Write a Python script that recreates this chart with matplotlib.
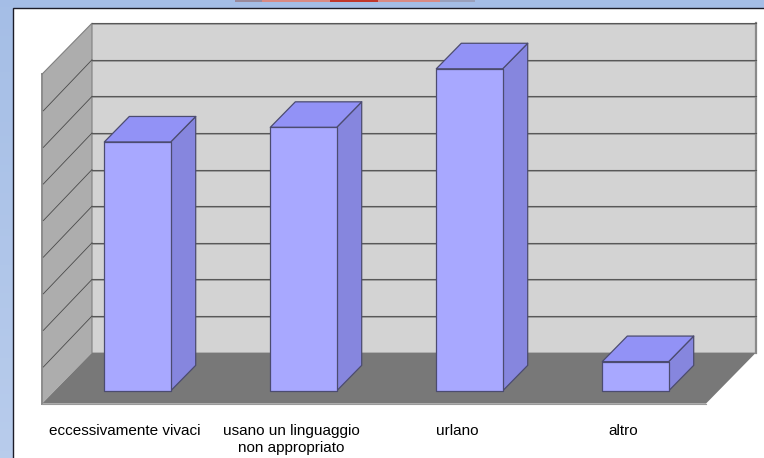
import numpy as np
import matplotlib
matplotlib.use("Agg")
import matplotlib.pyplot as plt
from matplotlib.patches import Polygon, Rectangle

plt.rcParams['font.family'] = ['Liberation Sans', 'DejaVu Sans']

# Valori
categorie = ["eccessivamente vivaci", "usano un linguaggio\nnon appropriato", "urlano", "altro"]
valori = [6.8, 7.2, 8.8, 0.8]
griglia = list(range(10))

# profondita' della vista 3D, in unita' dei dati
DX = 50 / 166
DY = 51 / 36.6
LARG = 0.4

fig = plt.figure(figsize=(7.64, 4.58), dpi=100)

# sfondo e cornice della diapositiva, in pixel
bg = fig.add_axes([0, 0, 1, 1])
bg.set_xlim(0, 764)
bg.set_ylim(458, 0)
bg.axis('off')
grad = np.linspace(0, 1, 64).reshape(-1, 1, 1)
col = (1 - grad) * np.array([[[0.647, 0.745, 0.902]]]) + grad * np.array([[[0.722, 0.800, 0.925]]])
bg.imshow(col, extent=(0, 764, 458, 0), aspect='auto', zorder=0)
bg.add_patch(Rectangle((12.5, 7.5), 800, 500, fc='white', ec='#1c1c28', lw=1.0, zorder=1))
for x0, x1, c in [(235, 262, '#9a8a9c'), (262, 330, '#d98a84'), (330, 378, '#c0362c'), (378, 440, '#d98a84'), (440, 475, '#9aa0bc')]:
    bg.add_patch(Rectangle((x0, 0), x1 - x0, 1.8, fc=c, ec='none', zorder=1))

# assi sul piano frontale del grafico
ax = fig.add_axes([42 / 764, 1 - 403.6 / 458, 664 / 764, 329.4 / 458])
ax.set_xlim(0, 4)
ax.set_ylim(0, 9)
ax.axis('off')

def poly(pts, fc, ec='none', lw=0, z=2):
    ax.add_patch(Polygon(pts, closed=True, fc=fc, ec=ec, lw=lw, zorder=z, clip_on=False, joinstyle='round'))

ymax = griglia[-1]
# pareti e pavimento
poly([(DX, DY), (4 + DX, DY), (4 + DX, ymax + DY), (DX, ymax + DY)], '#d3d3d3')
poly([(0, 0), (DX, DY), (DX, ymax + DY), (0, ymax)], '#adadad')
poly([(0, 0), (4, 0), (4 + DX, DY), (DX, DY)], '#787878')
ax.plot([0, 0], [0, ymax], color='#8c8c8c', lw=1.4, zorder=3, clip_on=False)
ax.plot([4 + DX, 4 + DX], [DY, ymax + DY], color='#8a8a8a', lw=1.6, zorder=3, clip_on=False)
ax.plot([0, 4], [0, 0], color='#9a9a9a', lw=0.8, zorder=3, clip_on=False)
ax.plot([0, DX, DX], [ymax, ymax + DY, DY], color='#808080', lw=0.8, zorder=3, clip_on=False)

# griglia
for g in griglia[1:]:
    ax.plot([DX, 4 + DX], [g + DY, g + DY], color='#585858', lw=0.8, zorder=3, clip_on=False)
    ax.plot([DX, 4 + DX], [g + DY - 0.03, g + DY - 0.03], color='#a0a0a0', lw=0.7, zorder=2.9, clip_on=False)
    if g < ymax:
        ax.plot([0.008, DX], [g, g + DY], color='#4a4a4a', lw=0.6, zorder=3, clip_on=False)

# barre
bordo = '#4c4c70'
for i, v in enumerate(valori):
    x0 = i + 0.5 - LARG / 2 + DX * 0.25
    x1 = x0 + LARG
    y0 = DY * 0.25
    ddx = DX * 0.5
    ddy = DY * 0.5
    y1 = y0 + v
    poly([(x1, y0), (x1 + ddx, y0 + ddy), (x1 + ddx, y1 + ddy), (x1, y1)], '#8686de', bordo, 0.9, 4)
    poly([(x0, y1), (x1, y1), (x1 + ddx, y1 + ddy), (x0 + ddx, y1 + ddy)], '#9292f6', bordo, 0.9, 4)
    poly([(x0, y0), (x1, y0), (x1, y1), (x0, y1)], '#a8a8ff', bordo, 0.9, 5)

# etichette
for i, c in enumerate(categorie):
    ax.annotate(c, (i + 0.5, 0), xytext=(0, -14.5), textcoords='offset points', ha='center', va='top',
                fontsize=11.0, color='black', linespacing=1.32, annotation_clip=False)

fig.savefig('out.png', dpi=100)
